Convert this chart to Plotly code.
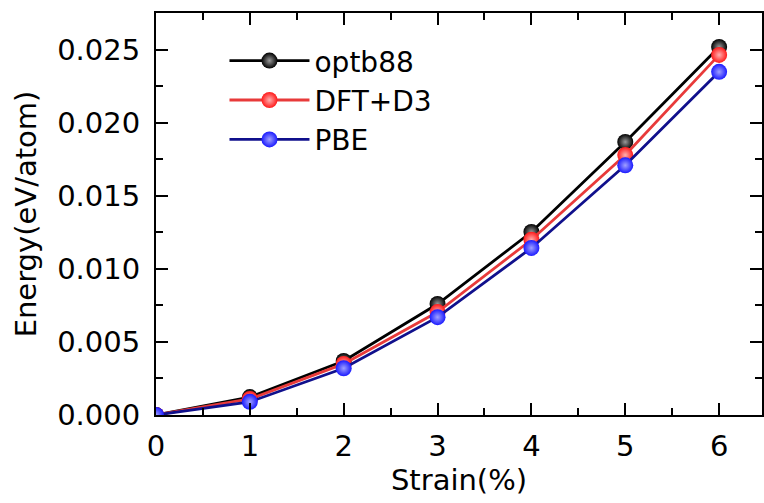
import plotly.graph_objects as go

strain = [0, 1, 2, 3, 4, 5, 6]
optb88 = [0.0, 0.00123, 0.0037, 0.0076, 0.01253, 0.0187, 0.0252]
dft_d3 = [0.0, 0.0011, 0.0035, 0.00705, 0.0120, 0.0178, 0.02466]
pbe = [0.0, 0.0009, 0.0032, 0.0067, 0.01144, 0.0171, 0.0235]

names = ["optb88", "DFT+D3", "PBE"]
line_colors = ["#000000", "#e83a3a", "#10108c"]
marker_colors = ["#000000", "#ff1a1a", "#1a1aff"]
center_colors = ["#9a9a9a", "#ffb0b0", "#a0a0ff"]

FONT = "DejaVu Sans"
XMAX = 6.457
YMAX = 0.02753

fig = go.Figure()
for name, ys, lc, mc, cc in zip(names, [optb88, dft_d3, pbe], line_colors, marker_colors, center_colors):
    fig.add_trace(go.Scatter(
        x=strain, y=ys, name=name, mode="lines+markers",
        line=dict(color=lc, width=2.8),
        marker=dict(size=16, color=mc, line=dict(width=0),
                    gradient=dict(type="radial", color=cc)),
    ))

fig.update_layout(
    width=764, height=503,
    margin=dict(l=156, r=0, t=13, b=88),
    paper_bgcolor="white", plot_bgcolor="white",
    font=dict(family=FONT, size=29, color="black"),
    showlegend=True,
    legend=dict(x=0.113, y=0.943, xanchor="left", yanchor="top",
                bgcolor="rgba(0,0,0,0)", font=dict(size=28, family=FONT),
                itemwidth=80, tracegroupgap=0),
    xaxis=dict(range=[0, XMAX], tickmode="linear", tick0=0, dtick=1,
               showline=True, linecolor="black", linewidth=2, mirror="allticks",
               ticks="inside", ticklen=12, tickwidth=2, tickcolor="black",
               minor=dict(tickmode="linear", tick0=0, dtick=0.5, ticks="inside", ticklen=7,
                          tickwidth=2, tickcolor="black", showgrid=False),
               showgrid=False, zeroline=False, ticklabelstandoff=4,
               title=dict(text="Strain(%)", standoff=6, font=dict(size=29, family=FONT))),
    yaxis=dict(range=[0, YMAX], tickmode="linear", tick0=0, dtick=0.005, tickformat=".3f",
               showline=True, linecolor="black", linewidth=2, mirror="allticks",
               ticks="inside", ticklen=12, tickwidth=2, tickcolor="black",
               minor=dict(tickmode="linear", tick0=0, dtick=0.0025, ticks="inside", ticklen=7,
                          tickwidth=2, tickcolor="black", showgrid=False),
               showgrid=False, zeroline=False, ticklabelstandoff=8,
               title=dict(text="Energy(eV/atom)", standoff=12, font=dict(size=29, family=FONT))),
)

fig.write_html("out.html")
